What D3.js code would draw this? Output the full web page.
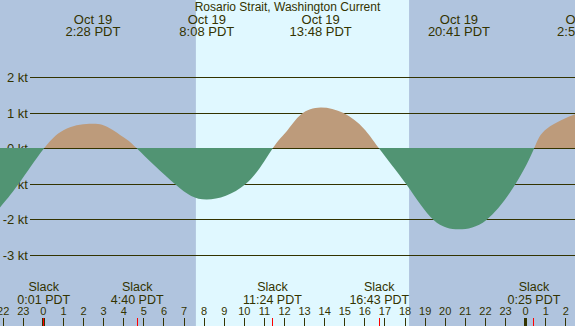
<!DOCTYPE html>
<html><head><meta charset="utf-8">
<script src="https://cdn.jsdelivr.net/npm/d3@7/dist/d3.min.js"></script>
<style>
html,body{margin:0;padding:0;background:#b0c4de;}
svg{display:block;}
text{font-family:"Liberation Sans",Arial,sans-serif;fill:#333300;}
</style></head>
<body>
<svg id="c" width="575" height="326"></svg>
<script>
// ---- data (hours after midnight Oct 19, PDT) ----
const curveHours = [-2.16, -1.25, 0.017, 1.17, 2.467, 3.32, 4.15, 4.667, 6.56, 8.133, 10.05, 11.4, 12.12, 12.83, 13.8, 14.94, 15.94, 16.717, 18.06, 19.42, 20.683, 22.05, 23.49, 24.417, 25.07, 26.48, 26.94];
const curveKnots = [-1.65, -1.0, 0, 0.57, 0.70, 0.57, 0.26, 0, -1.0, -1.43, -1.0, 0, 0.5, 0.97, 1.16, 1.0, 0.57, 0, -1.0, -2.0, -2.26, -2.0, -1.0, 0, 0.57, 0.97, 1.0];

const peakHours = [2.467, 8.133, 13.8, 20.683, 26.933];
const peakDates = ["Oct 19", "Oct 19", "Oct 19", "Oct 19", "Oct 20"];
const peakTimes = ["2:28 PDT", "8:08 PDT", "13:48 PDT", "20:41 PDT", "2:56 PDT"];

const slackHours = [0.017, 4.667, 11.4, 16.717, 24.417];
const slackTimes = ["0:01 PDT", "4:40 PDT", "11:24 PDT", "16:43 PDT", "0:25 PDT"];

const yTicks = [2, 1, 0, -1, -2, -3];
const yTickLabels = ["2 kt", "1 kt", "0 kt", "-1 kt", "-2 kt", "-3 kt"];

const hourTicks = d3.range(-2, 27);
const sunrise = 7.59, sunset = 18.2;
const title = "Rosario Strait, Washington Current";

// ---- layout ----
const W = 575, H = 326;
const svg = d3.select("#c");
const x = d3.scaleLinear().domain([0, 24]).range([43.4, 525.6]);
const y = d3.scaleLinear().domain([-3, 2]).range([255.5, 77.5]);
const colNight = "#b0c4de", colDay = "#e0f8ff", colFlood = "#bd9b7b", colEbb = "#519473", ink = "#333300";

svg.append("rect").attr("width", W).attr("height", H).attr("fill", colNight);
svg.append("rect").attr("x", x(sunrise)).attr("y", 0)
  .attr("width", x(sunset) - x(sunrise)).attr("height", H).attr("fill", colDay);

// gridlines
const py = v => Math.floor(y(v)) + 0.5;
svg.selectAll("line.grid").data(yTicks).enter().append("line")
  .attr("x1", 30).attr("x2", W).attr("y1", d => py(d)).attr("y2", d => py(d))
  .attr("stroke", ink).attr("stroke-width", 1);
svg.selectAll("text.yl").data(yTicks).enter().append("text")
  .attr("x", 28).attr("y", d => py(d) + 4.5).attr("text-anchor", "end")
  .attr("font-size", 13).text((d, i) => yTickLabels[i]);

// current areas
const pts = curveHours.map((h, i) => [h, curveKnots[i]]);
const zeroRow = Math.floor(y(0));
const defs = svg.append("defs");
defs.append("clipPath").attr("id", "cpPos").append("rect")
  .attr("x", 0).attr("y", 0).attr("width", W).attr("height", zeroRow);
defs.append("clipPath").attr("id", "cpNeg").append("rect")
  .attr("x", 0).attr("y", zeroRow).attr("width", W).attr("height", H - zeroRow);
const area = d3.area().curve(d3.curveNatural)
  .x(d => x(d[0])).y0(zeroRow).y1(d => y(d[1]));
svg.append("path").datum(pts).attr("d", area).attr("fill", colFlood).attr("clip-path", "url(#cpPos)");
svg.append("path").datum(pts).attr("d", area).attr("fill", colEbb).attr("clip-path", "url(#cpNeg)");

// title
svg.append("text").attr("x", W / 2).attr("y", 11).attr("text-anchor", "middle")
  .attr("font-size", 12).text(title);

// peak labels
const pk = svg.selectAll("g.pk").data(peakHours).enter().append("g");
pk.append("text").attr("x", d => x(d)).attr("y", 24).attr("text-anchor", "middle")
  .attr("font-size", 13).text((d, i) => peakDates[i]);
pk.append("text").attr("x", d => x(d)).attr("y", 35.7).attr("text-anchor", "middle")
  .attr("font-size", 13).text((d, i) => peakTimes[i]);

// slack labels
const sl = svg.selectAll("g.sl").data(slackHours).enter().append("g");
sl.append("text").attr("x", d => x(d)).attr("y", 290.7).attr("text-anchor", "middle")
  .attr("font-size", 12.5).text("Slack");
sl.append("text").attr("x", d => x(d)).attr("y", 303.7).attr("text-anchor", "middle")
  .attr("font-size", 12.5).text((d, i) => slackTimes[i]);

// hour axis
const px = h => Math.round(x(h) - 0.5) + 0.5;
svg.selectAll("text.hl").data(hourTicks).enter().append("text")
  .attr("x", d => x(d)).attr("y", 315).attr("text-anchor", "middle")
  .attr("font-size", 11).text(d => ((d % 24) + 24) % 24);
svg.selectAll("line.ht").data(hourTicks).enter().append("line")
  .attr("x1", d => px(d)).attr("x2", d => px(d)).attr("y1", 318).attr("y2", H)
  .attr("stroke", ink).attr("stroke-width", d => (d % 24 === 0 ? 3 : 1));
svg.selectAll("line.st").data(slackHours).enter().append("line")
  .attr("x1", d => px(d)).attr("x2", d => px(d)).attr("y1", 318).attr("y2", H)
  .attr("stroke", "#ff0000").attr("stroke-width", 1);
</script>
</body></html>
